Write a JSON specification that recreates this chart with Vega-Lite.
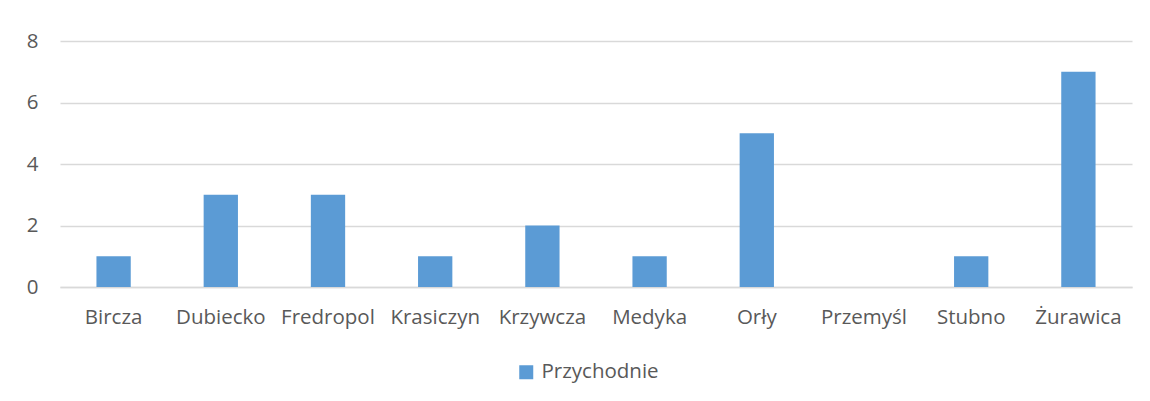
{
  "$schema": "https://vega.github.io/schema/vega-lite/v6.json",
  "autosize": "none",
  "width": 1072,
  "height": 246,
  "padding": {"left": 60, "top": 41, "right": 18, "bottom": 114},
  "background": "white",
  "config": {"view": {"stroke": null}, "font": "Open Sans"},
  "data": {"values": [
    {"gmina": "Bircza", "seria": "Przychodnie", "wartosc": 1},
    {"gmina": "Dubiecko", "seria": "Przychodnie", "wartosc": 3},
    {"gmina": "Fredropol", "seria": "Przychodnie", "wartosc": 3},
    {"gmina": "Krasiczyn", "seria": "Przychodnie", "wartosc": 1},
    {"gmina": "Krzywcza", "seria": "Przychodnie", "wartosc": 2},
    {"gmina": "Medyka", "seria": "Przychodnie", "wartosc": 1},
    {"gmina": "Orły", "seria": "Przychodnie", "wartosc": 5},
    {"gmina": "Przemyśl", "seria": "Przychodnie", "wartosc": 0},
    {"gmina": "Stubno", "seria": "Przychodnie", "wartosc": 1},
    {"gmina": "Żurawica", "seria": "Przychodnie", "wartosc": 7}
  ]},
  "mark": {"type": "bar", "color": "#5b9bd5"},
  "encoding": {
    "x": {
      "field": "gmina", "type": "nominal", "sort": null,
      "scale": {"paddingInner": 0.68, "paddingOuter": 0.34},
      "axis": {"title": null, "labelAngle": 0, "labelFontSize": 20.5, "labelColor": "#595959",
               "labelPadding": 20, "ticks": false, "domainColor": "#d9d9d9", "domainWidth": 1.5}
    },
    "y": {
      "field": "wartosc", "type": "quantitative",
      "scale": {"domain": [0, 8]},
      "axis": {"title": null, "values": [0, 2, 4, 6, 8], "labelFontSize": 20.5, "labelColor": "#595959",
               "labelPadding": 22, "ticks": false, "domain": false, "gridColor": "#d9d9d9", "gridWidth": 1.5}
    },
    "color": {
      "field": "seria", "type": "nominal",
      "scale": {"range": ["#5b9bd5"]},
      "legend": {"title": null, "orient": "none", "legendX": 456, "legendY": 321, "symbolType": "square",
                 "symbolSize": 196, "symbolStrokeWidth": 0, "labelFontSize": 20.5, "labelColor": "#595959", "labelOffset": 5}
    }
  }
}
